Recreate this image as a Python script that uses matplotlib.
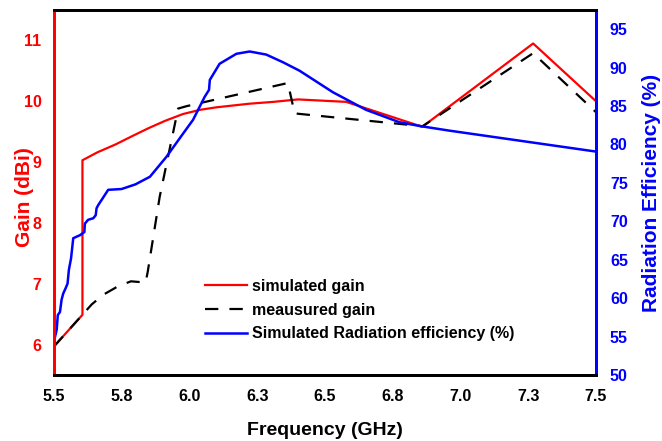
import matplotlib
matplotlib.use("Agg")
import matplotlib.pyplot as plt

plt.rcParams['font.family'] = ['Liberation Sans', 'DejaVu Sans']
plt.rcParams['font.weight'] = 'bold'

# ---- data ----
sim_freq = [5.5, 5.605, 5.605, 5.66, 5.727, 5.79, 5.85, 5.911, 5.976, 6.04, 6.099, 6.16,
            6.222, 6.31, 6.40, 6.578, 6.859, 7.268, 7.5]
sim_gain = [5.97, 6.49, 9.03, 9.16, 9.29, 9.43, 9.56, 9.68, 9.79, 9.86, 9.90, 9.93,
            9.96, 9.99, 10.03, 9.99, 9.58, 10.95, 10.0]

meas_freq = [5.5, 5.605, 5.639, 5.682, 5.737, 5.784, 5.838, 5.846, 5.89, 5.958, 5.99,
             6.363, 6.388, 6.86, 7.268, 7.5]
meas_gain = [5.97, 6.49, 6.66, 6.82, 6.96, 7.04, 7.02, 7.2, 8.43, 9.88, 9.92,
             10.30, 9.80, 9.59, 10.79, 9.82]

eff_freq = [5.5, 5.504, 5.510, 5.514, 5.522, 5.528, 5.534, 5.543, 5.550, 5.555, 5.563,
            5.571, 5.596, 5.612, 5.614, 5.626, 5.645, 5.654, 5.657, 5.663, 5.676,
            5.700, 5.749, 5.80, 5.854, 5.915, 5.976, 6.013, 6.056, 6.072, 6.075,
            6.111, 6.173, 6.222, 6.283, 6.345, 6.406, 6.529, 6.652, 6.774, 6.85,
            6.959, 7.495]
eff_val = [54.3, 55.0, 55.9, 57.8, 58.2, 59.8, 60.6, 61.3, 61.9, 63.7, 65.2,
           67.8, 68.2, 68.6, 69.7, 70.2, 70.4, 70.8, 71.7, 72.1, 72.8,
           74.1, 74.2, 74.8, 75.8, 78.4, 81.4, 83.2, 86.2, 87.1, 88.4,
           90.5, 91.8, 92.1, 91.7, 90.7, 89.6, 86.8, 84.5, 82.9, 82.4,
           81.8, 79.1]

xticks = [5.5, 5.75, 6.0, 6.25, 6.5, 6.75, 7.0, 7.25, 7.5]
xtick_labels = ['5.5', '5.8', '6.0', '6.3', '6.5', '6.8', '7.0', '7.3', '7.5']
gain_ticks = [6, 7, 8, 9, 10, 11]
eff_ticks = [50, 55, 60, 65, 70, 75, 80, 85, 90, 95]

fig = plt.figure(figsize=(6.62, 4.41), dpi=100)
ax = fig.add_axes([54/662, 1-375/441, (596-54)/662, (375-10)/441])
ax2 = ax.twinx()

l1, = ax.plot(sim_freq, sim_gain, color='#ff0000', lw=1.6, label='simulated gain')
l2, = ax.plot(meas_freq, meas_gain, color='black', lw=1.6, dashes=(6.0, 5.0),
              label='meausured gain')
l3, = ax2.plot(eff_freq, eff_val, color='#0000ff', lw=1.8,
               label='Simulated Radiation efficiency (%)')

ax.set_xlim(5.5, 7.5)
ax.set_ylim(5.5, 11.5)
ax2.set_ylim(50, 97.5)

ax.set_xticks(xticks)
ax.set_xticklabels(xtick_labels, fontsize=11.5, fontweight='bold')
ax.set_yticks(gain_ticks)
ax.set_yticklabels([str(t) for t in gain_ticks], fontsize=11.5, fontweight='bold', color='#ff0000')
ax2.set_yticks(eff_ticks)
ax2.set_yticklabels([str(t) for t in eff_ticks], fontsize=11.5, fontweight='bold', color='#0000ff')

ax.tick_params(axis='x', length=0, pad=10)
ax.tick_params(axis='y', length=0, pad=9)
ax2.tick_params(axis='y', length=0, pad=10)

ax.set_xlabel('Frequency (GHz)', fontsize=14, fontweight='bold', labelpad=13)
ax.set_ylabel('Gain (dBi)', fontsize=15, fontweight='bold', color='#ff0000')
ax.yaxis.set_label_coords((34-54)/542, (375-197)/365)
ax2.set_ylabel('Radiation Efficiency (%)', fontsize=15, fontweight='bold', color='#0000ff',
               labelpad=10)

for a in (ax, ax2):
    a.spines['left'].set_color('#ff0000')
    a.spines['right'].set_color('#0000ff')
    a.spines['top'].set_color('black')
    a.spines['bottom'].set_color('black')
    for s in a.spines.values():
        s.set_linewidth(2.0)

leg = ax2.legend(handles=[l1, l2, l3], loc='center left',
                 bbox_to_anchor=(205/662, 1-310/441), bbox_transform=fig.transFigure,
                 frameon=False, fontsize=11.5, handlelength=2.6, handletextpad=0.35,
                 labelspacing=0.55, borderpad=0, borderaxespad=0)
for t in leg.get_texts():
    t.set_fontweight('bold')

fig.savefig('out.png', dpi=100)
